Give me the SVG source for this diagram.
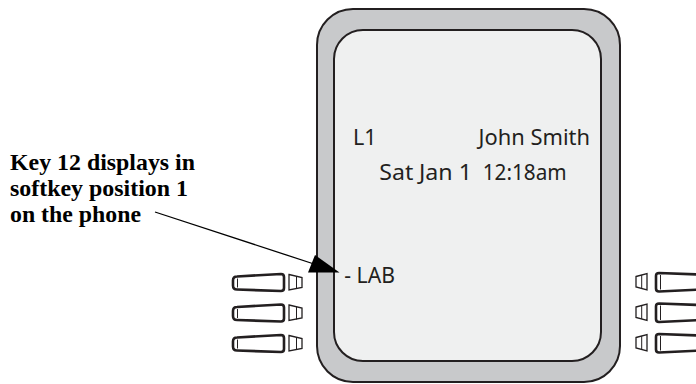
<svg xmlns="http://www.w3.org/2000/svg" width="696" height="384" viewBox="0 0 696 384">
<style>
.frame{fill:#c8c9cb;stroke:#231f20;stroke-width:2}
.screen{fill:#eff0f0;stroke:#231f20;stroke-width:2}
.lcd{font-family:"Noto Sans","Open Sans",sans-serif;font-size:21.5px;fill:#231f20}
.note{font-family:"Liberation Serif","Times New Roman",serif;font-weight:bold;font-size:23px;fill:#000}
.key{fill:#fff;stroke:#231f20;stroke-width:2.6;stroke-linejoin:round}
.ind{fill:#fff;stroke:#231f20;stroke-width:1.3}
.conn{stroke:#000;stroke-width:1.3;fill:none}
</style>
<defs>
<g id="lkey">
<path class="key" d="M237,3 L281,0.5 Q284,0.5 284,3.5 L284,14.5 Q284,17.5 281,17.5 L237,16 Q233,16 233,12 L233,7 Q233,3 237,3 Z"/>
<path d="M237.5,5 L237.5,14" stroke="#231f20" stroke-width="1" fill="none"/>
<path class="ind" d="M289,1 L302,4 L302,14 L289,16.5 Z"/>
<path d="M296.5,2.5 L296.5,15.5" stroke="#231f20" stroke-width="1" fill="none"/>
</g>
<g id="rkey">
<path class="key" d="M659,0.5 L700,2 L700,17 L659,19 Q656,19 656,16 L656,3.5 Q656,0.5 659,0.5 Z"/>
<path d="M660.5,2.5 L660.5,17" stroke="#231f20" stroke-width="1" fill="none"/>
<path class="ind" d="M636,4 L647,1 L647,17.5 L636,14.5 Z"/>
<path d="M641.7,2.5 L641.7,16" stroke="#231f20" stroke-width="1" fill="none"/>
</g>
</defs>
<g id="phone">
<rect class="frame" x="317" y="9" width="303" height="373" rx="36" ry="36"/>
<rect class="screen" x="334" y="30" width="267" height="331" rx="29" ry="29"/>
</g>
<g id="display">
<text class="lcd" x="353" y="144.5">L1</text>
<text class="lcd" x="478.5" y="144.5" textLength="111.5" lengthAdjust="spacingAndGlyphs">John Smith</text>
<text class="lcd" y="180"><tspan x="379.3" textLength="34" lengthAdjust="spacingAndGlyphs">Sat</tspan><tspan x="419" textLength="53" lengthAdjust="spacingAndGlyphs">Jan 1</tspan><tspan x="482.7" textLength="84" lengthAdjust="spacingAndGlyphs">12:18am</tspan></text>
<text class="lcd" x="344.3" y="283" textLength="50.7" lengthAdjust="spacingAndGlyphs">- LAB</text>
</g>
<g id="softkeys-left">
<use href="#lkey" transform="translate(0,273.5)"/>
<use href="#lkey" transform="translate(0,304)"/>
<use href="#lkey" transform="translate(0,334.5)"/>
</g>
<g id="softkeys-right">
<use href="#rkey" transform="translate(0,272.5)"/>
<use href="#rkey" transform="translate(0,303)"/>
<use href="#rkey" transform="translate(0,333.5)"/>
</g>
<g id="label">
<text class="note" x="10" y="170" textLength="185" lengthAdjust="spacingAndGlyphs">Key 12 displays in</text>
<text class="note" x="10" y="196" textLength="178" lengthAdjust="spacingAndGlyphs">softkey position 1</text>
<text class="note" x="10" y="222" textLength="131" lengthAdjust="spacingAndGlyphs">on the phone</text>
</g>
<g id="connectors">
<line class="conn" x1="155" y1="212" x2="314" y2="264"/>
<polygon points="339.5,272.5 315,255 308,272.5" fill="#000"/>
</g>
</svg>
